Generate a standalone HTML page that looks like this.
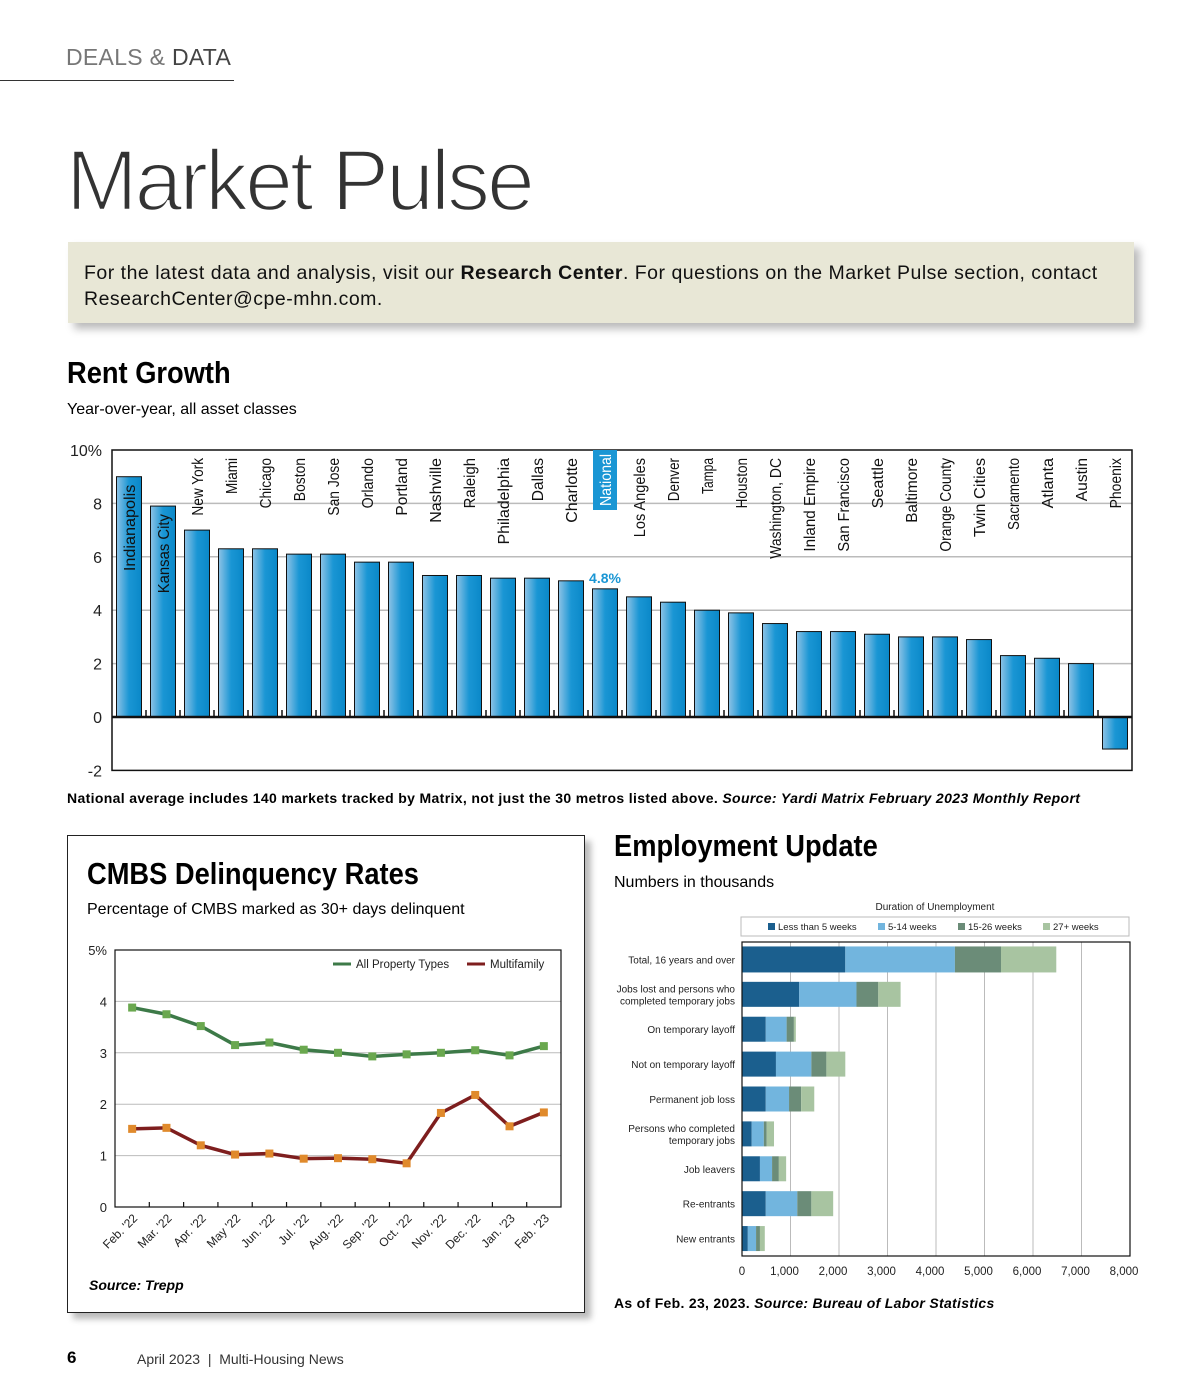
<!DOCTYPE html>
<html><head><meta charset="utf-8"><style>
body{margin:0;background:#fff;width:1200px;height:1400px;position:relative;font-family:"Liberation Sans",sans-serif;overflow:hidden}
.a{position:absolute}
</style></head><body>
<div class="a" style="left:66px;top:44px;font-size:23px;color:#444;letter-spacing:0.3px"><span style="color:#777">DEALS &amp;</span> DATA</div>
<div class="a" style="left:0;top:80px;width:234px;height:1px;background:#333"></div>
<div class="a" style="left:66px;top:132px;font-size:86px;color:#333;letter-spacing:-3px;-webkit-text-stroke:2.5px #fff;paint-order:normal">Market Pulse</div>
<div class="a" style="left:68px;top:242px;width:1066px;height:81px;background:#e8e7d6;box-shadow:6px 6px 8px #bbb;padding:0 0 0 16px;font-size:19.5px;letter-spacing:0.5px;line-height:26px;color:#111;box-sizing:border-box;padding-top:18px">For the latest data and analysis, visit our <b>Research Center</b>. For questions on the Market Pulse section, contact ResearchCenter@cpe-mhn.com.</div>
<div class="a" style="left:67px;top:355px;font-size:31px;font-weight:bold;transform:scaleX(0.88);transform-origin:left">Rent Growth</div>
<div class="a" style="left:67px;top:401px;font-size:16px">Year-over-year, all asset classes</div>
<svg class="a" style="left:0;top:430px" width="1200" height="360">
<defs><linearGradient id="bg" x1="0" x2="1"><stop offset="0" stop-color="#8ec3e6"/><stop offset="0.5" stop-color="#1a96d4"/><stop offset="1" stop-color="#0a88c8"/></linearGradient></defs>
<g id="rg"></g></svg>
<div class="a" style="left:67px;top:790px;font-size:14px;font-weight:bold;letter-spacing:0.35px">National average includes 140 markets tracked by Matrix, not just the 30 metros listed above. <i>Source: Yardi Matrix February 2023 Monthly Report</i></div>

<div class="a" style="left:67px;top:835px;width:516px;height:476px;border:1.5px solid #222;box-shadow:6px 6px 6px #bbb;background:#fff"></div>
<div class="a" style="left:87px;top:856px;font-size:31px;font-weight:bold;transform:scaleX(0.88);transform-origin:left">CMBS Delinquency Rates</div>
<div class="a" style="left:87px;top:901px;font-size:16px">Percentage of CMBS marked as 30+ days delinquent</div>
<svg class="a" style="left:67px;top:930px" width="516" height="340"><g id="cg"></g></svg>
<div class="a" style="left:89px;top:1277px;font-size:14px;font-weight:bold;font-style:italic">Source: Trepp</div>

<div class="a" style="left:614px;top:828px;font-size:31px;font-weight:bold;transform:scaleX(0.88);transform-origin:left">Employment Update</div>
<div class="a" style="left:614px;top:874px;font-size:16px">Numbers in thousands</div>
<svg class="a" style="left:600px;top:895px" width="600" height="390"><g id="eg"></g></svg>
<div class="a" style="left:614px;top:1295px;font-size:14px;font-weight:bold;letter-spacing:0.3px">As of Feb. 23, 2023. <i>Source: Bureau of Labor Statistics</i></div>

<div class="a" style="left:67px;top:1348px;font-size:17px;font-weight:bold">6</div>
<div class="a" style="left:137px;top:1351px;font-size:14px;color:#333">April 2023 &nbsp;|&nbsp; Multi-Housing News</div>

<script>
const NS='http://www.w3.org/2000/svg';
function mk(p,t,a,txt){const e=document.createElementNS(NS,t);for(const k in a)e.setAttribute(k,a[k]);if(txt!==undefined)e.textContent=txt;p.appendChild(e);return e;}

// Rent growth
const rgMarkets=["Indianapolis","Kansas City","New York","Miami","Chicago","Boston","San Jose","Orlando","Portland","Nashville","Raleigh","Philadelphia","Dallas","Charlotte","National","Los Angeles","Denver","Tampa","Houston","Washington, DC","Inland Empire","San Francisco","Seattle","Baltimore","Orange County","Twin Cities","Sacramento","Atlanta","Austin","Phoenix"];
const rgValues=[9.0,7.9,7.0,6.3,6.3,6.1,6.1,5.8,5.8,5.3,5.3,5.2,5.2,5.1,4.8,4.5,4.3,4.0,3.9,3.5,3.2,3.2,3.1,3.0,3.0,2.9,2.3,2.2,2.0,-1.2];
const rgTicks=[10,8,6,4,2,0,-2];
(function(){
 const g=document.getElementById('rg');
 const X0=112,X1=1132,top=20; const y=v=>287-v*26.7; const slot=(X1-X0)/rgMarkets.length;
 rgTicks.forEach(t=>{
  if(t!==0&&t!==-2&&t!==10){const l=mk(g,'line',{x1:X0,x2:X1,y1:y(t),y2:y(t),stroke:'#bbb','stroke-width':1.5});}
  const tx=mk(g,'text',{x:102,y:y(t)+6,'text-anchor':'end','font-size':16,fill:'#222'},t===10?'10%':String(t));
  
 });
 mk(g,'rect',{x:X0,y:y(10),width:X1-X0,height:y(-2)-y(10),fill:'none',stroke:'#111','stroke-width':1.5});
 rgMarkets.forEach((m,i)=>{
  const v=rgValues[i],cx=X0+slot*(i+0.5),w=25;
  const r=mk(g,'rect',{x:cx-w/2,y:Math.min(y(v),y(0)),width:w,height:Math.abs(y(v)-y(0)),fill:'url(#bg)',stroke:'#111','stroke-width':1});
  
  if(i>0){mk(g,'line',{x1:X0+slot*i,x2:X0+slot*i,y1:y(0),y2:y(0)-7,stroke:'#111','stroke-width':1.5});}
  let ly=top+8; const inside=(y(v)<ly+70);
  if(m==='National'){mk(g,'rect',{x:cx-12,y:top,width:24,height:60,fill:'#1a96d4'});ly=top+4;}
  const tx=mk(g,'text',{x:0,y:0,transform:`translate(${cx+6},${inside?y(v)+8:ly}) rotate(-90)`,'text-anchor':'end','font-size':16,fill:m==='National'?'#fff':'#111'},m);
  tx.setAttribute('textLength',m==='National'?52:m.length*7.2);tx.setAttribute('lengthAdjust','spacingAndGlyphs');
  
  if(m==='National'){const p=mk(g,'text',{x:cx,y:y(v)-6,'text-anchor':'middle','font-size':14,'font-weight':'bold',fill:'#1a96d4'},v+'%');}
 });
 mk(g,'line',{x1:X0,x2:X1,y1:y(0),y2:y(0),stroke:'#111','stroke-width':2.5});
})();

// CMBS
const cmMonths=["Feb. '22","Mar. '22","Apr. '22","May '22","Jun. '22","Jul. '22","Aug. '22","Sep. '22","Oct. '22","Nov. '22","Dec. '22","Jan. '23","Feb. '23"];
const cmAll=[3.88,3.75,3.52,3.15,3.2,3.06,3.0,2.93,2.97,3.0,3.05,2.95,3.13];
const cmMulti=[1.52,1.54,1.2,1.02,1.04,0.94,0.95,0.93,0.85,1.83,2.18,1.57,1.84];
const cmTicks=[0,1,2,3,4,5];
(function(){
 const g=document.getElementById('cg');
 const X0=48,X1=494,Y0=277,Y5=20; const y=v=>Y0-(Y0-Y5)*v/5; const step=(X1-X0)/cmMonths.length; const x=i=>X0+step*(i+0.5);
 cmTicks.forEach(t=>{
  if(t>0&&t<5)mk(g,'line',{x1:X0,x2:X1,y1:y(t),y2:y(t),stroke:'#bbb'});
  const tx=mk(g,'text',{x:40,y:y(t)+5,'text-anchor':'end','font-size':13,fill:'#222'},t===5?'5%':String(t));
 });
 mk(g,'rect',{x:X0,y:Y5,width:X1-X0,height:Y0-Y5,fill:'none',stroke:'#111','stroke-width':1.2});
 cmMonths.forEach((m,i)=>{
  if(i>0)mk(g,'line',{x1:X0+step*i,x2:X0+step*i,y1:Y0,y2:Y0-5,stroke:'#111','stroke-width':1.2});
  const tx=mk(g,'text',{transform:`translate(${x(i)+6},${Y0+12}) rotate(-45)`,'text-anchor':'end','font-size':12,fill:'#222'},m);
 });
 [[cmAll,'#3d7a48','#6aa84f','all-property-types'],[cmMulti,'#7e1e1e','#e08a2c','multifamily']].forEach(([d,lc,mc,n])=>{
  const pl=mk(g,'polyline',{points:d.map((v,i)=>x(i)+','+y(v)).join(' '),fill:'none',stroke:lc,'stroke-width':3.5});
  
  d.forEach((v,i)=>{const r=mk(g,'rect',{x:x(i)-4,y:y(v)-4,width:8,height:8,fill:mc});});
 });
 mk(g,'line',{x1:266,x2:284,y1:34,y2:34,stroke:'#3d7a48','stroke-width':3});
 const l1=mk(g,'text',{x:289,y:38,'font-size':11.5,fill:'#222'},'All Property Types');
 mk(g,'line',{x1:400,x2:418,y1:34,y2:34,stroke:'#7e1e1e','stroke-width':3});
 const l2=mk(g,'text',{x:423,y:38,'font-size':11.5,fill:'#222'},'Multifamily');
})();

// Employment
const emCats=[["Total, 16 years and over"],["Jobs lost and persons who","completed temporary jobs"],["On temporary layoff"],["Not on temporary layoff"],["Permanent job loss"],["Persons who completed","temporary jobs"],["Job leavers"],["Re-entrants"],["New entrants"]];
const emLess5=[2130,1180,490,700,490,200,370,490,120];
const em5to14=[2260,1180,430,730,480,250,250,650,170];
const em15to26=[950,450,150,310,250,60,140,290,80];
const em27plus=[1140,460,40,390,270,150,150,450,100];
const emSeries=["Less than 5 weeks","5-14 weeks","15-26 weeks","27+ weeks"];
const emTicks=[0,1000,2000,3000,4000,5000,6000,7000,8000];
(function(){
 const g=document.getElementById('eg');
 const X0=142,X1=530,Y0=47,Y1=361; const x=v=>X0+(X1-X0)*v/8000; const rh=(Y1-Y0)/emCats.length;
 const cols=['#1b5f8e','#72b5de','#6b8c78','#a8c4a1'];
 mk(g,'text',{x:335,y:15,'text-anchor':'middle','font-size':10,fill:'#222'},'Duration of Unemployment');
 mk(g,'rect',{x:141,y:22,width:388,height:19,fill:'#fff',stroke:'#bbb'});
 const lx=[168,278,358,443];
 emSeries.forEach((s,i)=>{mk(g,'rect',{x:lx[i],y:28,width:7,height:7,fill:cols[i]});const t=mk(g,'text',{x:lx[i]+10,y:35,'font-size':9.5,fill:'#222'},s);});
 emTicks.forEach(t=>{
  if(t>0)mk(g,'line',{x1:x(t),x2:x(t),y1:Y0,y2:Y1,stroke:'#bbb'});
  const tx=mk(g,'text',{x:t===0?x(t):x(t)-6,y:Y1+19,'text-anchor':'middle','font-size':11.5,fill:'#222'},t.toLocaleString('en-US'));
 });
 const data=[emLess5,em5to14,em15to26,em27plus];
 emCats.forEach((c,i)=>{
  const cy=Y0+rh*(i+0.5); let acc=0;
  data.forEach((d,k)=>{const r=mk(g,'rect',{x:x(acc),y:cy-(i===0?13:12.5),width:x(acc+d[i])-x(acc),height:i===0?26:25,fill:cols[k]});acc+=d[i];});
  c.forEach((ln,j)=>{const t=mk(g,'text',{x:135,y:cy+4+(j-(c.length-1)/2)*12,'text-anchor':'end','font-size':10,fill:'#222'},ln);});
 });
 mk(g,'rect',{x:X0,y:Y0,width:X1-X0,height:Y1-Y0,fill:'none',stroke:'#111','stroke-width':1.2});
})();
</script>
</body></html>
